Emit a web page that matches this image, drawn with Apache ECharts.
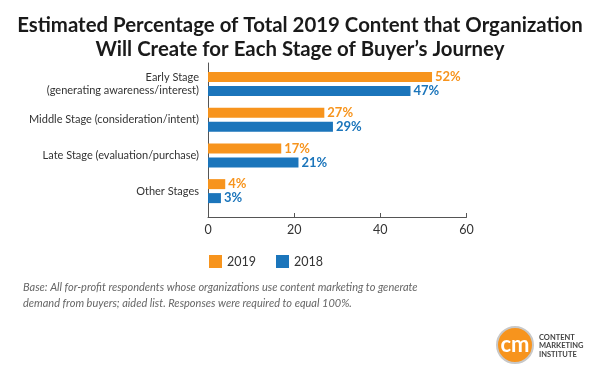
<!DOCTYPE html>
<html>
<head>
<meta charset="utf-8">
<script src="https://cdn.jsdelivr.net/npm/echarts@6/dist/echarts.min.js"></script>
<style>html,body{margin:0;padding:0;background:#fff}#c{width:600px;height:378px}</style>
</head>
<body>
<div id="c"></div>
<script>
const categories = ['Early Stage\n(generating awareness/interest)', 'Middle Stage (consideration/intent)', 'Late Stage (evaluation/purchase)', 'Other Stages'];
const values2019 = [52, 27, 17, 4];
const values2018 = [47, 29, 21, 3];
const xTicks = [0, 20, 40, 60];
const seriesNames = ['2019', '2018'];
const colors = ['#F7941D', '#1B75BB'];

const FONT = 'Lato, "Noto Sans", sans-serif';
const chart = echarts.init(document.getElementById('c'), null, {renderer: 'canvas'});
chart.setOption({
  backgroundColor: '#fff',
  animation: false,
  title: {
    text: 'Estimated Percentage of Total 2019 Content that Organization\nWill Create for Each Stage of Buyer’s Journey',
    left: 'center', top: 8,
    textStyle: {fontFamily: FONT, fontWeight: 'bold', fontSize: 20.4, lineHeight: 24, color: '#1a1a1a', align: 'center'}
  },
  legend: {
    data: seriesNames,
    left: 204, top: 250,
    itemWidth: 13, itemHeight: 13, itemGap: 20,
    icon: 'rect',
    textStyle: {fontFamily: FONT, fontSize: 12.5, color: '#333'}
  },
  grid: [
    {left: 208, right: 133.5, top: 63, bottom: 161},
    {left: 208, right: 133.5, top: 66, bottom: 169}
  ],
  xAxis: [
    {gridIndex: 0, type: 'value', min: xTicks[0], max: xTicks[xTicks.length - 1], interval: 20,
     axisLine: {show: true, lineStyle: {color: '#555', width: 1}},
     axisTick: {show: true, length: 4, inside: true, lineStyle: {color: '#555'}},
     splitLine: {show: false},
     axisLabel: {fontFamily: FONT, fontSize: 12.5, color: '#333', margin: 6}},
    {gridIndex: 1, type: 'value', min: xTicks[0], max: xTicks[xTicks.length - 1], show: false}
  ],
  yAxis: [
    {gridIndex: 0, type: 'category', data: categories, inverse: true,
     axisLine: {show: true, lineStyle: {color: '#555', width: 1}},
     axisTick: {show: false}, axisLabel: {show: false}},
    {gridIndex: 1, type: 'category', data: categories, inverse: true,
     axisLine: {show: false}, axisTick: {show: false},
     axisLabel: {fontFamily: FONT, fontSize: 11, color: '#333', lineHeight: 13, margin: 9, align: 'right'}}
  ],
  series: [values2019, values2018].map((vals, i) => ({
    name: seriesNames[i], type: 'bar', xAxisIndex: 1, yAxisIndex: 1,
    data: vals, barWidth: 10, barGap: '40%',
    itemStyle: {color: colors[i]},
    label: {show: true, position: 'right', distance: 3, formatter: '{c}%',
            fontFamily: FONT, fontWeight: 'bold', fontSize: 13, color: colors[i]}
  })),
  graphic: [
    {type: 'text', left: 23, top: 279,
     style: {text: 'Base: All for-profit respondents whose organizations use content marketing to generate\ndemand from buyers; aided list. Responses were required to equal 100%.',
             font: 'italic 11px ' + FONT, fill: '#666', lineHeight: 16}},
    {type: 'circle', shape: {cx: 515, cy: 345, r: 18}, style: {fill: '#F7941D', stroke: '#c8c8c8', lineWidth: 2}},
    {type: 'text', x: 515, y: 345,
     style: {text: 'cm', font: 'bold 22px ' + FONT, fill: '#fff', align: 'center', verticalAlign: 'middle'}},
    {type: 'text', x: 539, y: 333,
     style: {text: 'CONTENT\nMARKETING\nINSTITUTE', font: 'bold 7.5px ' + FONT, fill: '#444', lineHeight: 8.5}}
  ]
});
</script>
</body>
</html>
